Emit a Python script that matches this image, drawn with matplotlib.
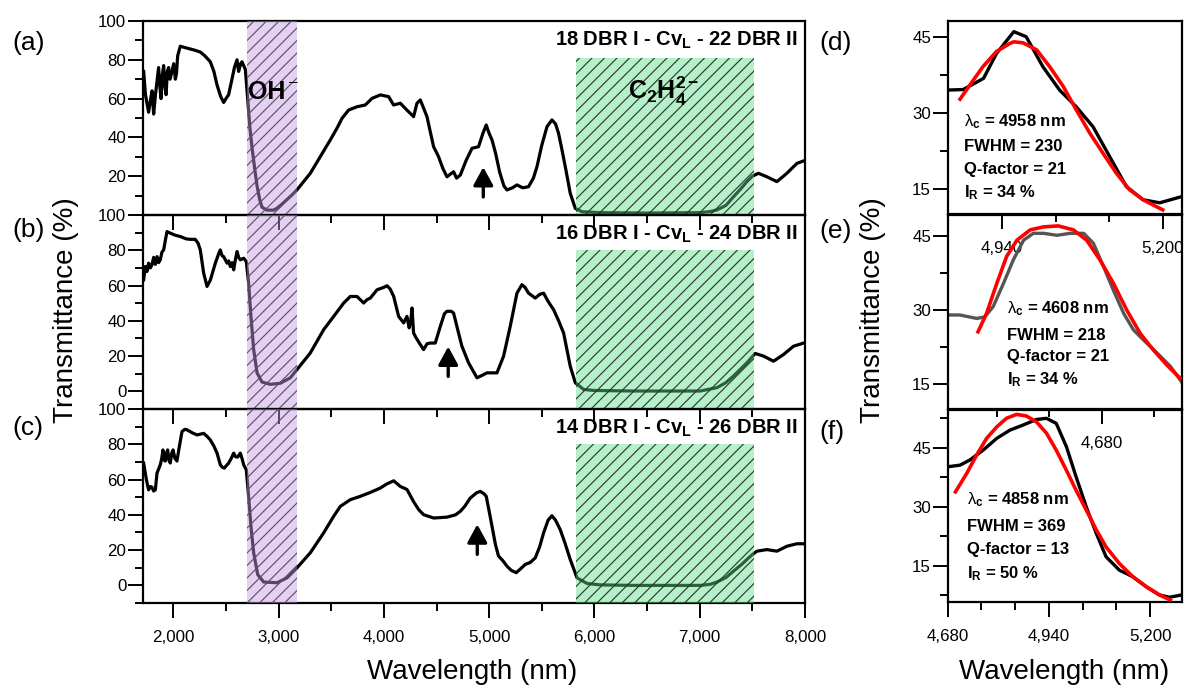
import matplotlib
matplotlib.use('Agg')
import matplotlib.pyplot as plt
from matplotlib.ticker import MultipleLocator, FixedLocator, FuncFormatter, AutoMinorLocator

plt.rcParams['font.family'] = ['Liberation Sans', 'DejaVu Sans']
plt.rcParams['mathtext.fontset'] = 'custom'
plt.rcParams['mathtext.rm'] = 'Liberation Sans'
plt.rcParams['mathtext.it'] = 'Liberation Sans:italic'
plt.rcParams['mathtext.bf'] = 'Liberation Sans:bold'
plt.rcParams['hatch.linewidth'] = 0.55

DPI = 150
P = 100.0 / DPI  # sizes below are given as points at 100 dpi


def pt(v):
    return v * P

# ---------------- data: full spectra (a, b, c) ----------------
wl_a = [1718, 1735, 1765, 1785, 1798, 1813, 1830, 1860, 1872, 1883, 1895, 1908, 1920, 1931, 1943,
        1955, 1968, 1978, 2003, 2019, 2030, 2041, 2066, 2130, 2200, 2256, 2300, 2351, 2385, 2415,
        2450, 2478, 2500, 2525, 2557, 2580, 2605, 2620, 2640, 2652, 2684, 2706, 2727, 2747, 2770,
        2795, 2820, 2842, 2890, 2950, 2985, 3030, 3080, 3130, 3175, 3301, 3396, 3491, 3554, 3602,
        3665, 3745, 3823, 3887, 3966, 4045, 4092, 4156, 4220, 4282, 4314, 4346, 4409, 4472, 4519,
        4560, 4599, 4630, 4662, 4690, 4726, 4780, 4837, 4899, 4940, 4972, 5000, 5027, 5060, 5100,
        5140, 5169, 5220, 5264, 5320, 5374, 5420, 5454, 5500, 5549, 5596, 5630, 5659, 5690, 5723,
        5770, 5818, 5881, 6055, 6500, 7005, 7100, 7163, 7250, 7321, 7390, 7448, 7500, 7558, 7638,
        7733, 7828, 7923, 7993]
T_a = [74, 62, 53, 60, 64, 52, 62, 76, 66, 60, 72, 77, 66, 62, 74,
       76, 70, 72, 78, 70, 73, 82, 87, 86, 85, 84, 82, 79, 74, 67,
       61, 58, 60, 62, 70, 76, 80, 74, 78, 79, 75, 60, 45, 35, 25,
       15, 8, 4, 2.5, 2.5, 3.5, 5.5, 8, 10.5, 13, 21.5, 30.1, 38.7, 44.7, 49.8,
       54.1, 55.8, 56.7, 60.1, 61.9, 61.0, 56.7, 57.6, 54, 50.7, 57.6, 59.3, 50.7, 35.2, 30.1,
       24, 19.7, 21, 22.3, 19, 20.6, 28, 34.4, 35.2, 42, 46.4, 42, 38.7, 32, 22,
       15, 12.9, 14, 15.5, 14, 14.6, 19, 24.9, 36, 45.5, 49, 47, 42.1, 34, 24.9,
       11.2, 3.4, 1.7, 1.2, 1.0, 1.2, 1.8, 2.6, 5, 9.4, 13.5, 17.2, 20, 21.5, 19.7,
       17.2, 21.5, 26.6, 28.0]

wl_b = [1718, 1734, 1750, 1765, 1781, 1797, 1813, 1829, 1845, 1860, 1876, 1892, 1908, 1925, 1940,
        1971, 2020, 2066, 2120, 2161, 2208, 2235, 2256, 2288, 2320, 2351, 2399, 2430, 2446, 2462,
        2478, 2510, 2525, 2541, 2557, 2573, 2590, 2605, 2620, 2636, 2668, 2693, 2715, 2737, 2763,
        2795, 2842, 2921, 3016, 3111, 3175, 3301, 3428, 3523, 3618, 3681, 3745, 3808, 3840, 3871,
        3935, 4000, 4030, 4060, 4093, 4140, 4188, 4219, 4240, 4255, 4267, 4282, 4300, 4330, 4377,
        4410, 4441, 4488, 4536, 4575, 4599, 4640, 4662, 4709, 4741, 4804, 4884, 4930, 4979, 5074,
        5137, 5200, 5264, 5311, 5340, 5374, 5438, 5480, 5517, 5560, 5612, 5660, 5707, 5770, 5818,
        5897, 6000, 6371, 7005, 7163, 7250, 7321, 7448, 7527, 7606, 7701, 7796, 7891, 7993]
T_b = [63.3, 70.8, 68, 72.7, 70, 71.8, 76, 72, 76.4, 73, 74.6, 79, 80.2, 86, 90.6,
       89.7, 88.5, 87.8, 86.5, 86.2, 86.2, 84, 80.2, 67, 59.5, 63, 72.7, 78, 80.2, 77,
       76.4, 72.7, 74, 70.8, 73, 68.9, 75, 79.3, 76, 74.6, 75.5, 73.6, 61.4, 42.5, 23.7,
       10.5, 5.3, 4.0, 4.6, 7.7, 12.4, 21.8, 35, 42.5, 50.1, 53.8, 53.8, 50.1, 52, 52.9,
       57.6, 59, 59.9, 58, 53.8, 42.5, 38.8, 42.5, 36, 40, 47.3, 33.1, 31, 28, 23.7,
       27, 27.4, 27.4, 36.9, 44, 45.4, 45.4, 44.4, 33.1, 25.6, 16.2, 7.7, 9, 10.5, 10.5,
       20, 36.9, 55.7, 60.5, 59, 55.7, 52.9, 55, 55.7, 51, 46.3, 40, 33.1, 14.3, 4.9,
       1.1, 0.5, 0.2, 0.2, 2.1, 5, 8.7, 16.2, 21.5, 20, 17.1, 20.9, 25.6, 27.5]

wl_c = [1718, 1744, 1765, 1781, 1797, 1813, 1829, 1845, 1860, 1876, 1890, 1901, 1912, 1924, 1935,
        1946, 1958, 1971, 1985, 1997, 2015, 2034, 2055, 2082, 2110, 2130, 2180, 2225, 2288, 2320,
        2351, 2385, 2415, 2446, 2465, 2484, 2505, 2525, 2550, 2573, 2590, 2610, 2636, 2652, 2668,
        2693, 2715, 2737, 2763, 2801, 2858, 2985, 3080, 3175, 3301, 3428, 3523, 3586, 3681, 3776,
        3871, 3966, 4030, 4093, 4156, 4219, 4282, 4330, 4377, 4472, 4599, 4680, 4726, 4770, 4820,
        4880, 4915, 4950, 4972, 5000, 5027, 5060, 5089, 5130, 5169, 5210, 5257, 5300, 5343, 5390,
        5438, 5480, 5517, 5560, 5596, 5630, 5675, 5720, 5770, 5834, 5929, 6050, 6371, 7005, 7100,
        7163, 7250, 7321, 7400, 7448, 7500, 7543, 7638, 7733, 7828, 7923, 7993]
T_c = [69.3, 59.9, 54.2, 56, 55.7, 53.5, 54.2, 63.7, 66, 68.4, 72, 76.8, 71, 70.5, 75,
       76.8, 71, 69.4, 75, 76.8, 72, 70.5, 78, 87.2, 88.5, 88.2, 86.5, 85.3, 86.2, 84.5,
       82.5, 79, 75, 68.4, 67, 66.5, 68, 69.3, 72, 75, 73, 72.7, 75, 72, 68.4,
       65.5, 50.5, 33.5, 18.5, 6.2, 1.9, 1.5, 4.3, 10, 18.5, 29.8, 39.2, 44.8, 48.6, 50.5,
       52.7, 55.2, 57.6, 59.3, 56.1, 54.4, 47.5, 43, 40.1, 38.2, 38.7, 40, 42, 45, 49.5,
       52.5, 53.3, 52, 50.5, 42, 33.5, 23, 16.6, 14, 10.9, 8.5, 7.2, 9.5, 11.9, 13,
       15.6, 22, 29.8, 37, 39.5, 37, 31.6, 24, 14.7, 4.3, 1.1, 0.3, 0, 0, 0.6,
       1.9, 4.5, 8.1, 12, 14.7, 17.5, 19.4, 20.3, 19.4, 22.2, 23.6, 23.6]

# ---------------- data: zoomed resonance (d, e, f) ----------------
wl_d = [4853, 4877, 4910, 4931, 4959, 4979, 5006, 5033, 5060, 5087, 5114, 5141, 5168, 5195, 5230]
T_d = [34.5, 34.6, 36.8, 41.7, 46.0, 45.0, 39.1, 34.5, 31.2, 27.3, 21.4, 15.5, 12.9, 12.3, 13.5]
wl_d_fit = [4872, 4888, 4909, 4931, 4953, 4959, 4974, 4996, 5017, 5039, 5060, 5082, 5103, 5125,
            5146, 5168, 5200]
T_d_fit = [32.7, 35.5, 39.1, 42.1, 43.7, 44.0, 43.8, 42.4, 39.1, 35.2, 30.6, 26.0, 22.1, 18.1,
           14.9, 12.9, 10.9]

wl_e = [4427, 4446, 4474, 4487, 4501, 4518, 4534, 4551, 4567, 4584, 4606, 4628, 4650, 4666, 4683,
        4699, 4716, 4732, 4749, 4771, 4793, 4813]
T_e = [29.0, 29.0, 28.3, 28.6, 30.7, 35.4, 40.1, 44.1, 45.5, 45.5, 45.1, 45.5, 45.5, 43.5, 38.7,
       34.0, 29.3, 26.0, 23.9, 21.3, 18.6, 15.2]
wl_e_fit = [4476, 4490, 4507, 4523, 4540, 4562, 4584, 4608, 4633, 4655, 4677, 4699, 4721, 4743,
            4765, 4787, 4809]
T_e_fit = [25.6, 29.3, 35.4, 40.8, 44.1, 46.2, 46.8, 47.0, 46.2, 44.1, 40.1, 35.4, 30.0, 25.3,
           21.9, 18.9, 16.2]

wl_f = [4682, 4712, 4737, 4771, 4806, 4840, 4874, 4908, 4934, 4959, 4985, 5010, 5036, 5062, 5087,
        5121, 5156, 5190, 5224, 5250, 5281]
T_f = [40.2, 40.6, 41.9, 44.4, 47.4, 49.5, 50.8, 52.2, 52.5, 51.2, 45.3, 37.6, 30.0, 23.2, 17.3,
       13.9, 12.2, 9.7, 7.6, 7.0, 7.6]
wl_f_fit = [4700, 4729, 4754, 4780, 4806, 4831, 4857, 4882, 4908, 4934, 4959, 4985, 5010, 5036,
            5062, 5087, 5121, 5156, 5190, 5224, 5252]
T_f_fit = [33.8, 38.5, 43.1, 47.4, 50.3, 52.5, 53.5, 53.1, 51.6, 48.7, 44.4, 39.3, 34.2, 29.2,
           24.1, 19.8, 15.6, 12.2, 9.7, 7.6, 6.3]

# ---------------- annotations ----------------
panel_left = ['(a)', '(b)', '(c)']
panel_right = ['(d)', '(e)', '(f)']
dbr_I = [18, 16, 14]
dbr_II = [22, 24, 26]
oh_band = (2700, 3175)
c2h4_band = (5820, 7520)
c2h4_top = [81, 80, 80]
arrow_x = [4944, 4611, 4887]
arrow_base = [9.3, 8.5, 17.6]
arrow_tip = [24.7, 25.4, 34.6]
lam_c = [4958, 4608, 4858]
fwhm = [230, 218, 369]
q_factor = [21, 21, 13]
i_r = [34, 34, 50]

# ---------------- figure ----------------
fig = plt.figure(figsize=(1184 / DPI, 688 / DPI), dpi=DPI)
fig.patch.set_facecolor('white')

left_rects = [(0.1208, 0.6875, 0.5591, 0.2820),
              (0.1208, 0.4055, 0.5591, 0.2820),
              (0.1208, 0.1235, 0.5591, 0.2820)]
right_rects = [(0.8004, 0.6890, 0.1979, 0.2805),
               (0.8004, 0.4055, 0.1979, 0.2820),
               (0.8004, 0.1250, 0.1979, 0.2790)]

left_ylims = [(0, 100), (-10, 100), (-10, 100)]
left_yticks = [[20, 40, 60, 80, 100], [0, 20, 40, 60, 80, 100], [0, 20, 40, 60, 80, 100]]
right_xlims = [(4852, 5231), (4426, 4812), (4680, 5282)]
right_ylims = [(10.1, 48.1), (10.0, 49.2), (5.8, 54.6)]

comma = FuncFormatter(lambda v, p: f'{v:,.0f}')
purple_face = (200 / 255, 150 / 255, 235 / 255, 0.45)
green_face = (90 / 255, 222 / 255, 135 / 255, 0.45)


def style(ax, show_x):
    ax.set_facecolor('none')
    ax.tick_params(which='both', direction='out', top=False, right=False,
                   width=pt(1.4), labelsize=pt(12.2), colors='black')
    ax.tick_params(which='major', length=pt(10.5))
    ax.tick_params(which='minor', length=pt(5.5))
    ax.tick_params(axis='y', pad=pt(1.5))
    ax.tick_params(axis='x', pad=pt(9.0), labelbottom=show_x)
    for s in ax.spines.values():
        s.set_linewidth(pt(1.6))


spectra = [(wl_a, T_a), (wl_b, T_b), (wl_c, T_c)]
for i, rect in enumerate(left_rects):
    ax = fig.add_axes(rect)
    wl, T = spectra[i]
    ax.plot(wl, T, color='black', lw=pt(2.3), zorder=2, solid_joinstyle='round')
    ax.set_xlim(1712, 8000)
    ax.set_ylim(*left_ylims[i])
    ax.xaxis.set_major_locator(MultipleLocator(1000))
    ax.xaxis.set_minor_locator(MultipleLocator(500))
    ax.xaxis.set_major_formatter(comma)
    ax.yaxis.set_major_locator(FixedLocator(left_yticks[i]))
    ax.yaxis.set_minor_locator(MultipleLocator(10))
    style(ax, show_x=(i == 2))
    ax.axvspan(*oh_band, facecolor=purple_face, edgecolor='#555555', hatch='////',
               linewidth=0, zorder=3)
    ax.fill_between(list(c2h4_band), left_ylims[i][0], c2h4_top[i], facecolor=green_face,
                    edgecolor='#333333', hatch='////', linewidth=0, zorder=3)
    ax.annotate('', xy=(arrow_x[i], arrow_tip[i]), xytext=(arrow_x[i], arrow_base[i]),
                arrowprops=dict(arrowstyle='-|>,head_length=0.55,head_width=0.3',
                                lw=pt(2.4), color='black', shrinkA=0, shrinkB=0,
                                mutation_scale=pt(20)),
                zorder=4)
    ax.text(0.989, 0.875, f'{dbr_I[i]} DBR I - Cv$_\\mathbf{{L}}$ - {dbr_II[i]} DBR II',
            transform=ax.transAxes, ha='right', va='baseline', fontsize=pt(14.5),
            fontweight='bold', zorder=5)
    if i == 0:
        ax.text(2712, 60, 'OH', ha='left', va='baseline', fontsize=pt(18),
                fontweight='bold', zorder=5)
        ax.text(3140, 68.7, '\u2013', ha='center', va='center', fontsize=pt(11),
                fontweight='normal', zorder=5)
        ax.text(6321, 60, 'C$_\\mathbf{2}$H$_\\mathbf{4}^\\mathbf{2-}$', ha='left',
                va='baseline', fontsize=pt(18), fontweight='bold', zorder=5)

zoom_data = [(wl_d, T_d, wl_d_fit, T_d_fit, 'black'),
             (wl_e, T_e, wl_e_fit, T_e_fit, '#555555'),
             (wl_f, T_f, wl_f_fit, T_f_fit, 'black')]
text_x = [0.07, 0.252, 0.084]
text_y = [[0.478, 0.349, 0.228, 0.110],
          [0.519, 0.381, 0.270, 0.149],
          [0.531, 0.392, 0.271, 0.149]]
for i, rect in enumerate(right_rects):
    ax = fig.add_axes(rect)
    wl, T, wlf, Tf, col = zoom_data[i]
    ax.plot(wl, T, color=col, lw=pt(2.4), zorder=2)
    ax.plot(wlf, Tf, color='#ff0000', lw=pt(2.6), zorder=3)
    ax.set_xlim(*right_xlims[i])
    ax.set_ylim(*right_ylims[i])
    ax.xaxis.set_major_locator(MultipleLocator(260))
    ax.xaxis.set_minor_locator(AutoMinorLocator(3))
    ax.xaxis.set_major_formatter(comma)
    ax.yaxis.set_major_locator(MultipleLocator(15))
    ax.yaxis.set_minor_locator(MultipleLocator(7.5))
    style(ax, show_x=True)
    lines = [f'$\\mathrm{{\\lambda}}_\\mathbf{{c}}$ = {lam_c[i]} nm',
             f'FWHM = {fwhm[i]}',
             f'Q-factor = {q_factor[i]}',
             f'I$_\\mathbf{{R}}$ = {i_r[i]} %']
    for k, s in enumerate(lines):
        ax.text(text_x[i], text_y[i][k], s, transform=ax.transAxes, ha='left', va='center',
                fontsize=pt(12), fontweight='bold', zorder=5)

# panel letters
for s, y in zip(panel_left, [43, 230, 428]):
    fig.text(12 / 1184, 1 - y / 688, s, ha='left', va='center', fontsize=pt(19))
for s, y in zip(panel_right, [43, 231, 432]):
    fig.text(819 / 1184, 1 - y / 688, s, ha='left', va='center', fontsize=pt(19))

# axis titles
fig.text(66 / 1184, 1 - 310 / 688, 'Transmittance (%)', rotation=90, ha='center',
         va='center', fontsize=pt(20))
fig.text(873 / 1184, 1 - 310 / 688, 'Transmittance (%)', rotation=90, ha='center',
         va='center', fontsize=pt(20))
fig.text(472 / 1184, 1 - 672 / 688, 'Wavelength (nm)', ha='center', va='center',
         fontsize=pt(20))
fig.text(1064 / 1184, 1 - 672 / 688, 'Wavelength (nm)', ha='center', va='center',
         fontsize=pt(20))

fig.savefig('out.png', dpi=DPI)
